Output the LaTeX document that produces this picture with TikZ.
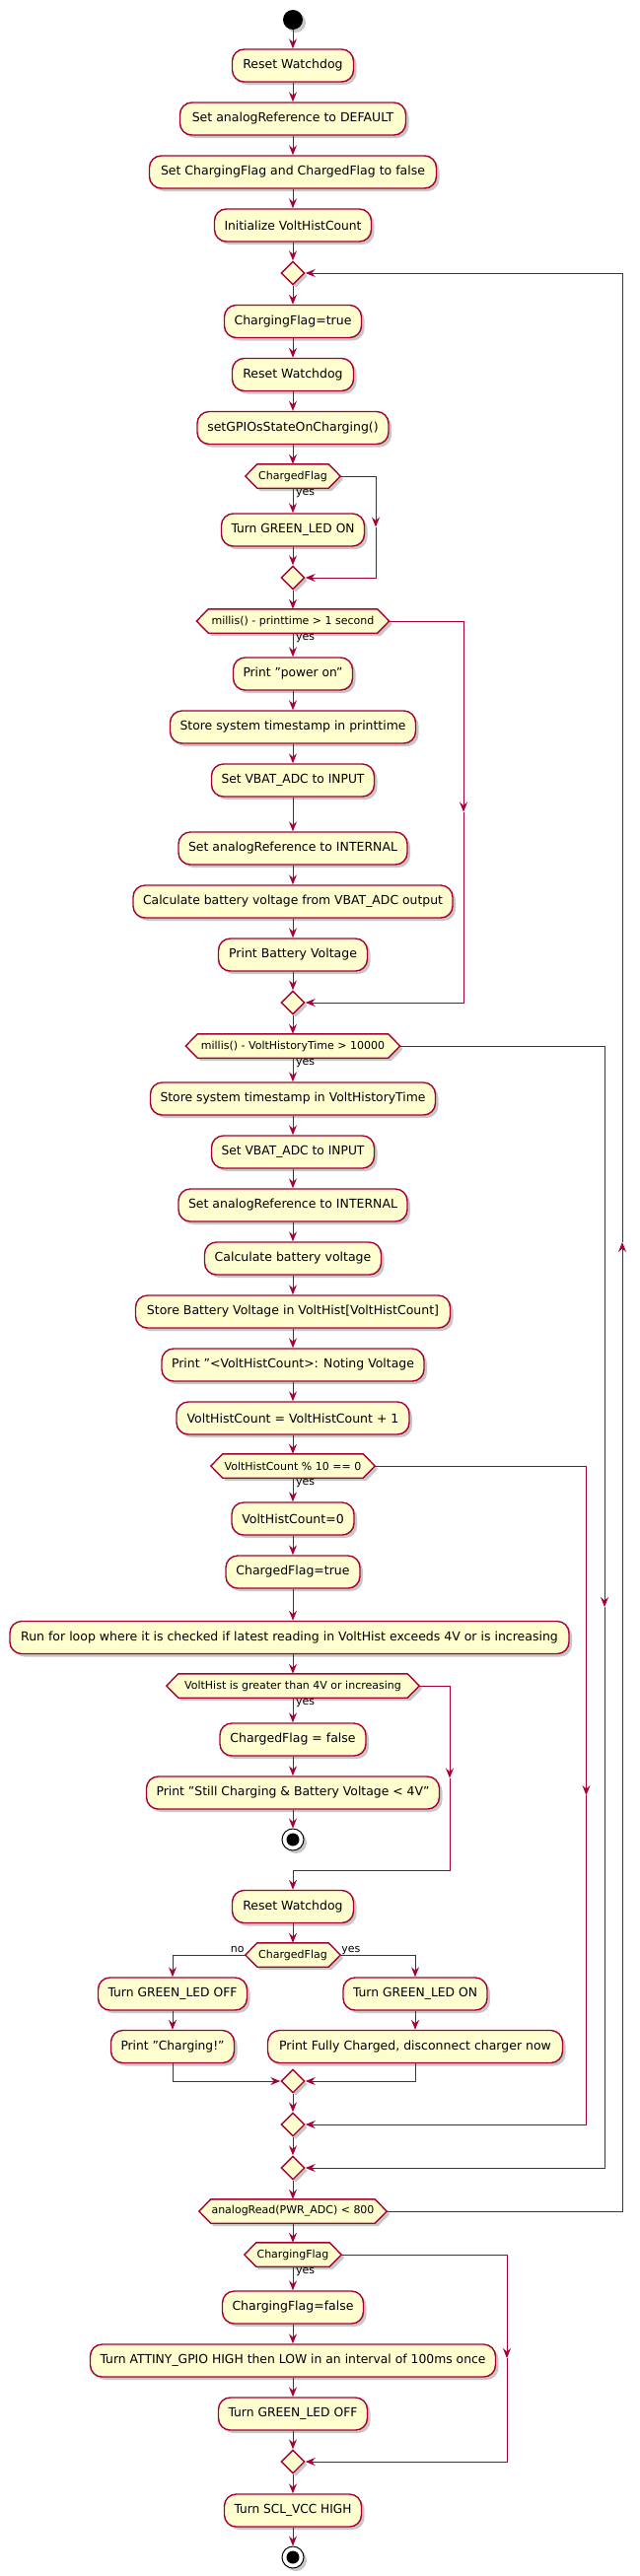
\documentclass[tikz,border=0pt]{standalone}
\usepackage{fontspec}
\setmainfont{DejaVu Sans}
\usetikzlibrary{arrows.meta,shapes.geometric,shadows,backgrounds}
\pgfdeclarelayer{back0}
\pgfsetlayers{back0,background,main}
\definecolor{pred}{HTML}{A80036}
\definecolor{pfill}{HTML}{FEFECE}
\tikzset{
  shad/.style={drop shadow={shadow xshift=3pt,shadow yshift=-3pt,opacity=0.22,fill=black}},
  act/.style={draw=pred, fill=pfill, line width=1.4pt, rounded corners=12pt, minimum height=33pt, inner xsep=10pt, inner ysep=2pt, font=\fontsize{12.5}{14}\selectfont, shad},
  condtext/.style={inner xsep=0.5pt, inner ysep=0pt, minimum height=24pt, font=\fontsize{11}{13}\selectfont},
  hexshape/.style={draw=pred, fill=pfill, line width=1.4pt, shad},
  merge/.style={diamond, draw=pred, fill=pfill, line width=1.4pt, minimum width=24pt, minimum height=24pt, inner sep=0pt, shad},
  flow/.style={draw=pred, line width=1pt, -{Stealth[length=10pt,width=8pt,inset=3.5pt]}},
  lbl/.style={font=\fontsize{11}{13}\selectfont, inner sep=1pt},
}
\newsavebox\fitbox
\newcommand{\fitw}[2]{%
  \sbox\fitbox{#2}%
  \ifdim\wd\fitbox>#1\relax
    \pgfmathsetmacro\fitratio{\the\dimexpr#1\relax/\the\wd\fitbox}%
    \scalebox{\fitratio}[1]{\usebox\fitbox}%
  \else\usebox\fitbox\fi}
\newcommand{\actnode}[4]{%
  \node[act, minimum width=#3pt] (#1) at (#2) {\fitw{\dimexpr#3pt-20pt\relax}{#4}};}
\newcommand{\hexcond}[4]{%
  \node[condtext, minimum width=#3] (#1) at (#2) {#4};
  \coordinate (#1-e) at ([xshift=12pt]#1.east);
  \coordinate (#1-w) at ([xshift=-12pt]#1.west);
  \begin{scope}[on background layer]
    \draw[hexshape] (#1.north west) -- (#1.north east) -- (#1-e) -- (#1.south east) -- (#1.south west) -- (#1-w) -- cycle;
  \end{scope}
}
\begin{document}
\begin{tikzpicture}[x=1pt,y=-1pt]
\begin{pgfonlayer}{back0}
\fill[white] (0,0) rectangle (648,2613);
\end{pgfonlayer}
\useasboundingbox (0,0) rectangle (648,2613);

% start
\node[circle, fill=black, minimum size=20pt, inner sep=0pt, shad] (start) at (297,20) {};
\actnode{a1}{297,66.5}{123}{Reset Watchdog}
\actnode{a2}{297,120.5}{229}{Set analogReference to DEFAULT}
\actnode{a3}{297,174.5}{291}{Set ChargingFlag and ChargedFlag to false}
\actnode{a4}{297,228.5}{159}{Initialize VoltHistCount}
\node[merge] (d1) at (297,277) {};
\actnode{a5}{297,326}{139}{ChargingFlag=true}
\actnode{a6}{297,380}{123}{Reset Watchdog}
\actnode{a7}{297,434}{194}{setGPIOsStateOnCharging()}
\hexcond{h1}{297,483}{72pt}{ChargedFlag}
\node[lbl, anchor=north west] (y1) at ([xshift=2pt]h1.south) {yes};
\actnode{a8}{297,537.5}{145}{Turn GREEN\_LED ON}
\node[merge] (d2) at (297,586) {};
\hexcond{h2}{297,630}{171pt}{millis() - printtime > 1 second}
\node[lbl, anchor=north west] (y2) at ([xshift=2pt]h2.south) {yes};
\actnode{a9}{297,683.5}{121}{Print "power on"}
\actnode{a10}{297,737.5}{249}{Store system timestamp in printtime}
\actnode{a11}{297,791.5}{165}{Set VBAT\_ADC to INPUT}
\actnode{a12}{297,860.5}{232}{Set analogReference to INTERNAL}
\actnode{a13}{297,914.5}{324}{Calculate battery voltage from VBAT\_ADC output}
\actnode{a14}{297,968.5}{151}{Print Battery Voltage}
\node[merge] (d3) at (297,1017) {};
\hexcond{h3}{297,1061}{193pt}{millis() - VoltHistoryTime > 10000}
\node[lbl, anchor=north west] (y3) at ([xshift=2pt]h3.south) {yes};
\actnode{a15}{297,1114.5}{289}{Store system timestamp in VoltHistoryTime}
\actnode{a16}{297,1168.5}{165}{Set VBAT\_ADC to INPUT}
\actnode{a17}{297,1222.5}{232}{Set analogReference to INTERNAL}
\actnode{a18}{297,1276.5}{179}{Calculate battery voltage}
\actnode{a19}{297,1330.5}{319}{Store Battery Voltage in VoltHist[VoltHistCount]}
\actnode{a20}{297,1384.5}{266}{Print "<VoltHistCount>: Noting Voltage}
\actnode{a21}{297,1438.5}{236}{VoltHistCount = VoltHistCount + 1}
\hexcond{h4}{297,1487}{142pt}{VoltHistCount \% 10 == 0}
\node[lbl, anchor=north west] (y4) at ([xshift=2pt]h4.south) {yes};
\actnode{a22}{297,1540.5}{124}{VoltHistCount=0}
\actnode{a23}{297,1594.5}{136}{ChargedFlag=true}
\actnode{a24}{293.5,1661}{567}{Run for loop where it is checked if latest reading in VoltHist exceeds 4V or is increasing}
\hexcond{h5}{297,1710}{232pt}{VoltHist is greater than 4V or increasing}
\node[lbl, anchor=north west] (y5) at ([xshift=2pt]h5.south) {yes};
\actnode{a25}{297,1764.5}{148}{ChargedFlag = false}
\actnode{a26}{297,1818.5}{297}{Print "Still Charging \& Battery Voltage < 4V"}
\node[circle, draw=black, fill=white, line width=1pt, minimum size=22pt, inner sep=0pt, shad] (stop1) at (297,1866) {};
\node[circle, fill=black, minimum size=13pt, inner sep=0pt] (stop1i) at (stop1) {};
\actnode{a27}{297,1934}{123}{Reset Watchdog}
\hexcond{h6}{297,1983}{72pt}{ChargedFlag}
\node[lbl, anchor=base east] (n6) at ([yshift=3pt]h6-w) {no};
\node[lbl, anchor=base west] (y6) at ([yshift=3pt]h6-e) {yes};
\actnode{a28}{175,2022.5}{151}{Turn GREEN\_LED OFF}
\actnode{a29}{175,2076}{125}{Print "Charging!"}
\actnode{a30}{421,2022.5}{146}{Turn GREEN\_LED ON}
\actnode{a31}{421,2076}{299}{Print Fully Charged, disconnect charger now}
\node[merge] (d4) at (297,2111) {};
\node[merge] (d5) at (297,2155) {};
\node[merge] (d6) at (297,2199) {};
\hexcond{h7}{297,2243}{165pt}{analogRead(PWR\_ADC) < 800}
\hexcond{h8}{297,2287}{74pt}{ChargingFlag}
\node[lbl, anchor=north west] (y8) at ([xshift=2pt]h8.south) {yes};
\actnode{a32}{297,2340.5}{143}{ChargingFlag=false}
\actnode{a33}{297,2394.5}{411}{Turn ATTINY\_GPIO HIGH then LOW in an interval of 100ms once}
\actnode{a34}{297,2448.5}{151}{Turn GREEN\_LED OFF}
\node[merge] (d7) at (297,2497) {};
\actnode{a35}{297,2546.5}{139}{Turn SCL\_VCC HIGH}
\node[circle, draw=black, fill=white, line width=1pt, minimum size=22pt, inner sep=0pt, shad] (stop2) at (297,2594) {};
\node[circle, fill=black, minimum size=13pt, inner sep=0pt] (stop2i) at (stop2) {};

% branch coordinates
\coordinate (r1) at (381,534.5);
\coordinate (r2) at (470,823.5);
\coordinate (r3) at (613,1630);
\coordinate (r4) at (594.5,1821);
\coordinate (r5) at (456,1803.5);
\coordinate (j5) at (297,1897);
\coordinate (r7) at (631,1260);
\coordinate (r8) at (514,2392);

% main flow
\draw[flow] (start) -- (a1);
\draw[flow] (a1) -- (a2);
\draw[flow] (a2) -- (a3);
\draw[flow] (a3) -- (a4);
\draw[flow] (a4) -- (d1);
\draw[flow] (d1) -- (a5);
\draw[flow] (a5) -- (a6);
\draw[flow] (a6) -- (a7);
\draw[flow] (a7) -- (h1);
\draw[flow] (h1) -- (a8);
\draw[flow] (a8) -- (d2);
\draw[flow] (h1-e) -| (r1);
\draw[flow] (r1) |- (d2.east);
\draw[flow] (d2) -- (h2);
\draw[flow] (h2) -- (a9);
\draw[flow] (a9) -- (a10);
\draw[flow] (a10) -- (a11);
\draw[flow] (a11) -- (a12);
\draw[flow] (a12) -- (a13);
\draw[flow] (a13) -- (a14);
\draw[flow] (a14) -- (d3);
\draw[flow] (h2-e) -| (r2);
\draw[flow] (r2) |- (d3.east);
\draw[flow] (d3) -- (h3);
\draw[flow] (h3) -- (a15);
\draw[flow] (a15) -- (a16);
\draw[flow] (a16) -- (a17);
\draw[flow] (a17) -- (a18);
\draw[flow] (a18) -- (a19);
\draw[flow] (a19) -- (a20);
\draw[flow] (a20) -- (a21);
\draw[flow] (a21) -- (h4);
\draw[flow] (h4) -- (a22);
\draw[flow] (a22) -- (a23);
\draw[flow] (a23) -- (a24.north -| h4);
\draw[flow] (a24.south -| h5) -- (h5);
\draw[flow] (h5) -- (a25);
\draw[flow] (a25) -- (a26);
\draw[flow] (a26) -- (stop1);
\draw[flow] (h5-e) -| (r5);
\draw[flow] (r5) |- (j5) -- (a27);
\draw[flow] (a27) -- (h6);
\draw[flow] (h6-w) -| (a28);
\draw[flow] (h6-e) -| (a30);
\draw[flow] (a28) -- (a29);
\draw[flow] (a30) -- (a31);
\draw[flow] (a29) |- (d4.west);
\draw[flow] (a31) |- (d4.east);
\draw[flow] (d4) -- (d5);
\draw[flow] (h4-e) -| (r4);
\draw[flow] (r4) |- (d5.east);
\draw[flow] (d5) -- (d6);
\draw[flow] (h3-e) -| (r3);
\draw[flow] (r3) |- (d6.east);
\draw[flow] (d6) -- (h7);
\draw[flow] (h7-e) -| (r7);
\draw[flow] (r7) |- (d1.east);
\draw[flow] (h7) -- (h8);
\draw[flow] (h8) -- (a32);
\draw[flow] (a32) -- (a33);
\draw[flow] (a33) -- (a34);
\draw[flow] (a34) -- (d7);
\draw[flow] (h8-e) -| (r8);
\draw[flow] (r8) |- (d7.east);
\draw[flow] (d7) -- (a35);
\draw[flow] (a35) -- (stop2);
\end{tikzpicture}
\end{document}
